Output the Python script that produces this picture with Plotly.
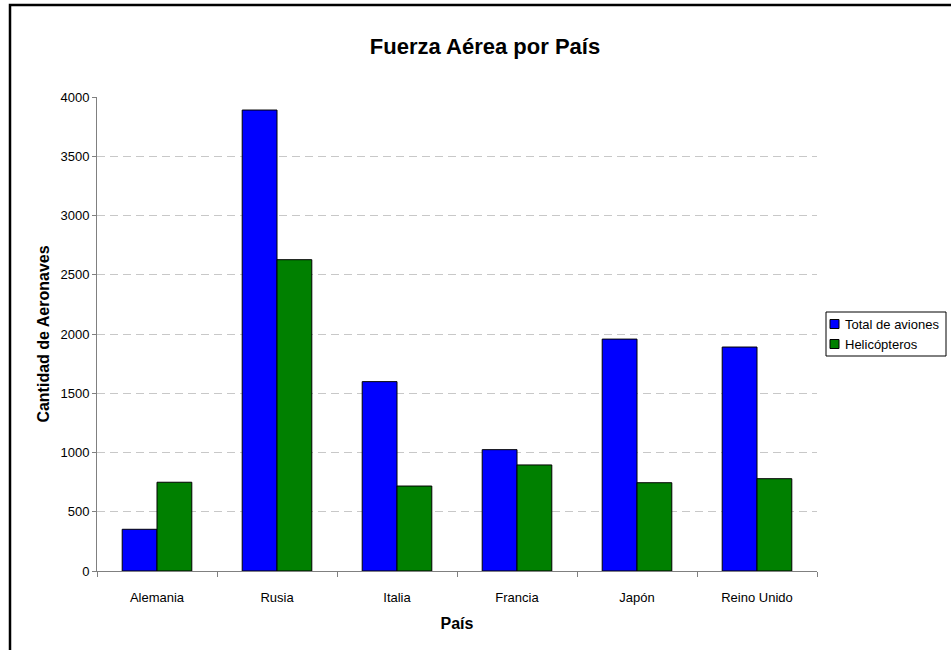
import plotly.graph_objects as go

paises = ["Alemania", "Rusia", "Italia", "Francia", "Japón", "Reino Unido"]
total_aviones = [352, 3890, 1598, 1024, 1957, 1890]
helicopteros = [749, 2627, 717, 895, 745, 779]
series_names = ["Total de aviones", "Helicópteros"]
series_colors = ["#0000FF", "#008000"]

FONT = "Arial, Liberation Sans, sans-serif"
W, H = 951, 650
L, R, T, B = 97, 134, 97, 79
PW, PH = W - L - R, H - T - B


def px(x):  # pixel -> paper x
    return (x - L) / PW


def py(y):  # pixel -> paper y
    return (H - B - y) / PH


fig = go.Figure()
for name, vals, col in zip(series_names, [total_aviones, helicopteros], series_colors):
    fig.add_trace(go.Bar(x=paises, y=vals, name=name, showlegend=False,
                         marker=dict(color=col, line=dict(color="black", width=1))))

fig.update_layout(
    width=W, height=H,
    margin=dict(l=L, r=R, t=T, b=B),
    paper_bgcolor="white", plot_bgcolor="white",
    font=dict(family=FONT, size=13, color="black"),
    barmode="group", bargap=0.42, bargroupgap=0,
    title=dict(text="<b>Fuerza Aérea por País</b>", x=485 / W, xanchor="center",
               y=1 - 46 / H, yanchor="middle", font=dict(size=22, family=FONT)),
    showlegend=False,
)

fig.update_yaxes(range=[0, 4000], tickvals=list(range(0, 4001, 500)),
                 showline=True, linecolor="#808080", linewidth=1,
                 ticks="outside", ticklen=4, tickcolor="#808080",
                 showgrid=True, gridcolor="#c8c8c8", griddash="8px,5px", gridwidth=1,
                 zeroline=False, tickfont=dict(size=13),
                 title=dict(text="<b>Cantidad de Aeronaves</b>", font=dict(size=16, family=FONT),
                            standoff=6))
fig.update_xaxes(showline=True, linecolor="#808080", linewidth=1,
                 ticks="outside", ticklen=5, tickcolor="#808080", tickson="boundaries",
                 showgrid=False, tickfont=dict(size=13), ticklabelstandoff=14,
                 title=dict(text="<b>País</b>", font=dict(size=16, family=FONT), standoff=14))

# chart border (cropped at right/bottom in the reference)
fig.add_shape(type="rect", xref="paper", yref="paper",
              x0=px(10), x1=px(W + 40), y0=py(H + 30), y1=py(5),
              line=dict(color="black", width=2.5), layer="below")

# legend box
fig.add_shape(type="rect", xref="paper", yref="paper",
              x0=px(826), x1=px(946), y0=py(356), y1=py(312),
              line=dict(color="black", width=1), fillcolor="white")
for i, (name, col) in enumerate(zip(series_names, series_colors)):
    cy = 324 + 20 * i
    fig.add_shape(type="rect", xref="paper", yref="paper",
                  x0=px(830), x1=px(839), y0=py(cy + 4.5), y1=py(cy - 4.5),
                  line=dict(color="black", width=1), fillcolor=col)
    fig.add_annotation(text=name, xref="paper", yref="paper", x=px(843), y=py(cy),
                       xanchor="left", yanchor="middle", showarrow=False,
                       font=dict(size=13, family=FONT, color="black"))

fig.write_html("out.html", config={"displayModeBar": False},
               post_script="document.body.style.margin='0';")
